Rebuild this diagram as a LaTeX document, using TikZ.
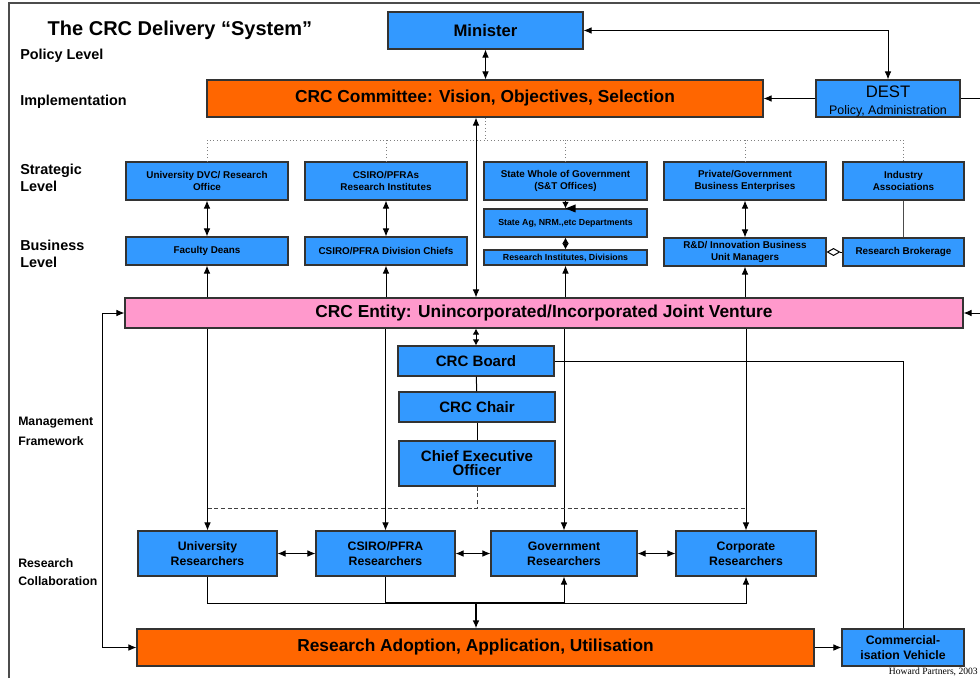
\documentclass[tikz,border=0pt]{standalone}
\usepackage{fontspec}
\setmainfont{Liberation Sans}
\newfontfamily\hpserif{Liberation Serif}
\usetikzlibrary{arrows.meta}
\definecolor{bblue}{HTML}{3399FF}
\definecolor{borange}{HTML}{FF6600}
\definecolor{bpink}{HTML}{FF99CC}
\newcommand\mybox[7]{\node[#6, minimum width={(#4-#2)*0.75pt}, minimum height={(#5-#3)*0.75pt}] (#1) at ({(#2+#4)/2},{(#3+#5)/2}) {#7};}
\tikzset{
  box/.style={draw=black!80, line width=0.8pt, fill=bblue, inner sep=0pt, align=center},
  fsA/.style={font=\bfseries\fontsize{12.5}{14}\selectfont},
  fsB/.style={font=\bfseries\fontsize{13}{15}\selectfont},
  fsC/.style={font=\bfseries\fontsize{11.3}{10.5}\selectfont},
  fsR/.style={font=\bfseries\fontsize{9.2}{11.2}\selectfont},
  fsS/.style={font=\bfseries\fontsize{7.4}{8.8}\selectfont},
  fsT/.style={font=\bfseries\fontsize{6.6}{8}\selectfont},
  lbl/.style={anchor=west, align=left, font=\bfseries\fontsize{10.8}{12.8}\selectfont, inner sep=0pt},
  lbls/.style={anchor=west, align=left, font=\bfseries\fontsize{9.2}{15}\selectfont, inner sep=0pt},
  conn/.style={line width=0.75pt, black},
  arr/.style={conn, -{Latex[length=6pt,width=5pt]}},
  darr/.style={conn, {Latex[length=6pt,width=5pt]}-{Latex[length=6pt,width=5pt]}},
  sdarr/.style={conn, {Latex[length=4.5pt,width=5pt]}-{Latex[length=4.5pt,width=5pt]}},
  dots/.style={gray, line width=0.6pt, dotted},
  dsh/.style={conn, black!75, dash pattern=on 3pt off 2pt},
}
\begin{document}
\begin{tikzpicture}[x=0.75pt, y=-0.75pt]
\useasboundingbox (0,0) rectangle (980,678);
\draw[black!70, line width=1.2pt] (9,678) -- (9,3) -- (980,3);

% labels
\node[anchor=center, font=\bfseries\fontsize{15}{17}\selectfont] (title) at (180,30) {The CRC Delivery “System”};
\node[lbl] (l1) at (20,56) {Policy Level};
\node[lbl] (l2) at (20,102) {Implementation};
\node[lbl] (l3) at (20,178) {Strategic\\Level};
\node[lbl] (l4) at (20,254) {Business\\Level};
\node[lbls] (l5) at (18,431) {Management\\Framework};
\node[lbls, font=\bfseries\fontsize{9.2}{13.5}\selectfont] (l6) at (18,572) {Research\\Collaboration};

% coordinates
\coordinate (dotL) at (207,140);
\coordinate (dout) at (980,98.5);
\coordinate (rin) at (980,313);
\coordinate (dashy) at (0,508);
\coordinate (boty) at (0,603);

% nodes
\mybox{minister}{388}{12}{583}{49}{box,fsA}{Minister}
\mybox{committee}{207}{80}{763}{117}{box,fill=borange,fsB}{CRC Committee: Vision, Objectives, Selection}
\mybox{dest}{816}{80}{960}{117}{box,label={[align=center, inner sep=0pt, yshift=-2.2pt, font=\fontsize{12.5}{13}\selectfont]center:DEST\\{\fontsize{9.3}{10}\selectfont Policy, Administration}}}{}

\mybox{udvc}{126}{162}{288}{200}{box,fsS}{University DVC/ Research\\Office}
\mybox{csiroi}{305}{162}{467}{200}{box,fsS}{CSIRO/PFRAs\\Research Institutes}
\mybox{stw}{484}{162}{647}{200}{box,fsS}{State Whole of Government\\(S\&T Offices)}
\mybox{pge}{664}{162}{826}{200}{box,fsS}{Private/Government\\Business Enterprises}
\mybox{ind}{843}{162}{964}{200}{box,fsS}{Industry\\Associations}

\mybox{deans}{126}{237}{288}{265}{box,fsS}{Faculty Deans}
\mybox{divch}{305}{237}{467}{265}{box,fsS}{CSIRO/PFRA Division Chiefs}
\mybox{stag}{484}{209}{647}{237}{box,fsT}{State Ag, NRM.,etc Departments}
\mybox{rinst}{484}{250}{647}{265}{box,fsT}{Research Institutes, Divisions}
\mybox{rd}{664}{238}{826}{266}{box,fsS}{R\&D/ Innovation Business\\Unit Managers}
\mybox{brok}{843}{238}{964}{266}{box,fsS}{Research Brokerage}

\mybox{entity}{125}{298}{963}{328}{box,fill=bpink,fsB}{CRC Entity: Unincorporated/Incorporated Joint Venture}

\mybox{board}{398}{346}{554}{376}{box,fsC}{CRC Board}
\mybox{chair}{399}{392}{555}{422}{box,fsC}{CRC Chair}
\mybox{ceo}{399}{441}{555}{486}{box,fsC}{Chief Executive\\Officer}

\mybox{ures}{138}{531}{277}{576}{box,fsR}{University\\Researchers}
\mybox{cres}{316}{531}{455}{576}{box,fsR}{CSIRO/PFRA\\Researchers}
\mybox{gres}{491}{531}{637}{576}{box,fsR}{Government\\Researchers}
\mybox{kres}{676}{531}{816}{576}{box,fsR}{Corporate\\Researchers}

\mybox{adopt}{137}{629}{814}{666}{box,fill=borange,fsB}{Research Adoption, Application, Utilisation}
\mybox{comm}{842}{629}{964}{666}{box,fsR}{Commercial-\\isation Vehicle}

\node[anchor=east, inner sep=0pt, font=\hpserif\fontsize{7.2}{8}\selectfont] (hp) at (978,672) {Howard Partners, 2003};

% top connectors
\draw[darr] (minister.south) -- (minister.south |- committee.north);
\draw[darr] (minister.east) -| (dest.north);
\draw[arr] (dest.west) -- (committee.east);
\draw[conn] (dest.east) -- (dout);

% dotted links
\draw[dots] (committee.south) -- (committee.south |- dotL);
\draw[dots] (udvc.north) -- (udvc.north |- dotL) -- (ind.north |- dotL) -- (ind.north);
\draw[dots] (csiroi.north) -- (csiroi.north |- dotL);
\draw[dots] (stw.north) -- (stw.north |- dotL);
\draw[dots] (pge.north) -- (pge.north |- dotL);

% committee <-> entity
\draw[darr] (committee.south -| board.north) -- (entity.north -| board.north);

% strategic <-> business
\draw[darr] (udvc) -- (deans);
\draw[darr] (csiroi) -- (divch);
\draw[conn, -{Latex[length=5pt,width=5pt]}] (stw.south) -- (stag.north);
\fill (stag.north) -- ++(10,-4) -- ++(0,8) -- cycle;
\draw[sdarr] (stag) -- (rinst);
\draw[darr] (pge) -- (rd);
\draw[conn, black!70] (ind) -- (brok);
\draw[conn, {Diamond[open,length=10.5pt,width=6pt]}-] (rd.east) -- (brok.west);

% entity up to business
\draw[arr] (entity.north -| deans.south) -- (deans.south);
\draw[arr] (entity.north -| divch.south) -- (divch.south);
\draw[arr] (entity.north -| rinst.south) -- (rinst.south);
\draw[arr] (entity.north -| rd.south) -- (rd.south);
\draw[arr] (rin) -- (entity.east);
\draw[darr] (entity.west) -- ++(-22,0) |- (adopt.west);

% management
\draw[sdarr] (entity.south -| board.north) -- (board.north);
\draw[conn] (board) -- (chair);
\draw[conn] (chair) -- (ceo);
\draw[conn] (board.east) -| (comm.north);

% entity down to researchers
\draw[arr] (entity.south -| ures.north) -- (ures.north);
\draw[arr] (entity.south -| cres.north) -- (cres.north);
\draw[arr] (entity.south -| gres.north) -- (gres.north);
\draw[arr] (entity.south -| kres.north) -- (kres.north);

% dashed CEO link
\draw[dsh] (ceo.south) -- (ceo.south |- dashy);
\draw[dsh] (ures.north |- dashy) -- (kres.north |- dashy);

% researchers
\draw[darr] (ures) -- (cres);
\draw[darr] (cres) -- (gres);
\draw[darr] (gres) -- (kres);
\draw[arr] (ures.south) -- (ures.south |- boty) -- (kres.south |- boty) -- (kres.south);
\draw[arr] (gres.south |- boty) -- (gres.south);
\draw[conn] (cres.south) -- (cres.south |- boty);
\draw[conn, line width=1.3pt] (cres.south |- boty) -- (gres.south |- boty);
\draw[conn, line width=1.3pt, -{Latex[length=6pt,width=5pt]}] (board.south |- boty) -- (board.south |- adopt.north);
\draw[arr] (adopt.east) -- (comm.west);
\end{tikzpicture}
\end{document}
